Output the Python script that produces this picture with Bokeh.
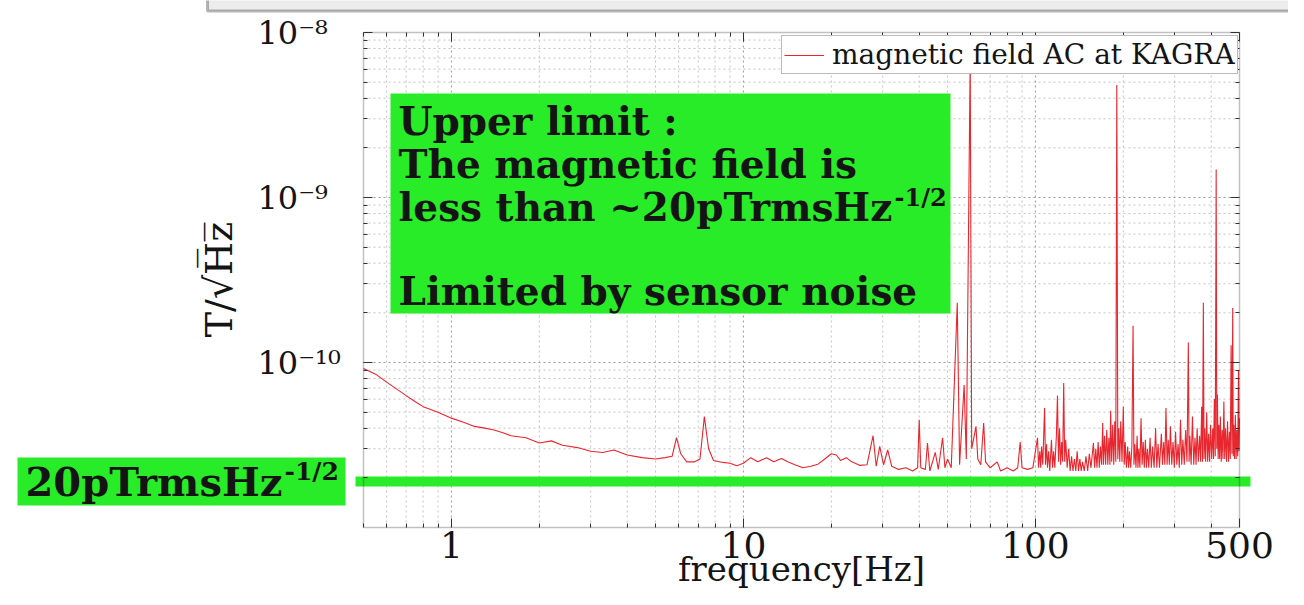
from math import log10, pi
from bokeh.plotting import figure
from bokeh.models import Range1d, FixedTicker, LogAxis, Label, BoxAnnotation
from bokeh.embed import file_html
from bokeh.resources import INLINE

# ---------------- data ----------------
freq_hz = [
    0.50, 0.55, 0.60, 0.65, 0.70, 0.75, 0.80, 0.90, 1.0, 1.1, 1.2, 1.3, 1.4, 1.5, 1.6, 1.8,
    2.0, 2.2, 2.4, 2.7, 3.0, 3.3, 3.6, 4.0, 4.5, 5.0, 5.4, 5.7, 5.9, 6.1, 6.4, 6.8, 7.1,
    7.35, 7.6, 7.9, 8.5, 9.0, 9.5, 10.0, 10.6, 11.2, 12.0, 12.7, 13.5, 14.2, 15.0, 16.0,
    17.0, 18.0, 19.0, 20.0, 20.8, 21.5, 22.5, 23.5, 25.0, 26.5, 27.8, 28.5, 29.3, 30.2,
    31.2, 32.2, 34.0, 36.0, 38.0, 39.5, 40.0, 40.5, 42.0, 42.7, 43.5, 45.4, 46.5, 48.1,
    49.0, 50.0, 51.5, 54.0, 55.0, 57.0, 58.0, 59.8, 60.5, 62.6, 63.5, 65.0, 66.5, 67.5,
    70.0, 72.0, 74.0, 76.0, 80.0, 84.0, 87.0, 88.7, 90.0, 94.0, 98.0,
    101.7, 102.5, 103.5, 104.3, 105.0, 106.0, 107.5, 108.3, 109.2, 110.0, 111.0, 112.0,
    113.5, 114.5, 115.5, 116.5, 118.0, 119.0, 120.0, 121.0, 122.0, 123.0, 124.0, 125.0,
    126.0, 127.0, 128.5, 130.0, 131.5, 133.0, 134.5, 136.0, 137.5, 139.0, 140.5, 142.0,
    143.5, 145.0, 147.0, 149.0, 151.0, 153.0, 155.0, 157.0, 158.0, 159.5, 161.0, 162.5,
    164.0, 165.5, 167.0, 168.5, 170.0, 171.0, 172.5, 174.0, 175.5, 177.0, 178.5, 180.0,
    181.0, 182.5, 184.0, 185.5, 187.0, 188.5, 190.0, 191.5, 193.0, 194.5, 196.0, 198.0,
    200.0, 201.5, 203.0, 205.0, 207.0, 208.5, 210.0, 212.0, 214.0, 216.0, 217.5, 219.0,
    221.0, 223.0, 224.5, 226.0, 228.0, 230.0, 232.0, 234.0, 236.0, 238.0, 240.0, 242.0,
    244.5, 247.0, 249.5, 252.0, 255.0, 258.0, 260.5, 263.0, 266.0, 270.0, 272.5, 275.0,
    277.5, 280.0, 282.5, 285.0, 287.5, 290.0, 293.0, 296.0, 299.0, 302.0, 305.0, 308.0,
    311.0, 314.0, 317.0, 320.0, 323.5, 327.0, 330.5, 334.0, 336.0, 338.0, 341.5, 345.0,
    348.5, 352.0, 355.0, 358.0, 361.5, 365.0, 368.0, 371.0, 373.5, 376.0, 378.0, 380.0,
    383.0, 386.0, 389.0, 392.0, 395.0, 398.0, 401.5, 405.0, 407.5, 410.0, 413.0, 416.0,
    418.0, 420.0, 422.5, 425.0, 427.5, 430.0, 433.0, 436.0, 439.0, 442.0, 445.0, 448.0,
    451.5, 455.0, 458.5, 462.0, 465.0, 468.0, 471.0, 474.0, 476.0, 478.0, 481.0, 484.0,
    487.0, 490.0, 493.0, 496.0, 498.0, 500.0,
]
field_t = [
    9.2e-11, 8.5e-11, 7.6e-11, 6.9e-11, 6.3e-11, 5.8e-11, 5.4e-11, 5.0e-11, 4.6e-11, 4.35e-11,
    4.1e-11, 4.0e-11, 3.9e-11, 3.75e-11, 3.6e-11, 3.5e-11,
    3.25e-11, 3.35e-11, 3.15e-11, 3.05e-11, 2.9e-11, 2.85e-11, 2.95e-11, 2.75e-11, 2.65e-11,
    2.6e-11, 2.65e-11, 2.7e-11, 3.5e-11, 2.8e-11, 2.5e-11, 2.5e-11, 2.6e-11,
    4.7e-11, 3.0e-11, 2.55e-11, 2.48e-11, 2.45e-11, 2.37e-11, 2.45e-11, 2.65e-11, 2.5e-11,
    2.65e-11, 2.5e-11, 2.62e-11, 2.5e-11, 2.4e-11, 2.3e-11,
    2.35e-11, 2.42e-11, 2.6e-11, 2.8e-11, 2.75e-11, 2.55e-11, 2.65e-11, 2.5e-11, 2.38e-11,
    2.4e-11, 3.6e-11, 2.35e-11, 3.1e-11, 2.4e-11,
    2.95e-11, 2.35e-11, 2.25e-11, 2.3e-11, 2.2e-11, 2.3e-11, 4.5e-11, 2.3e-11, 2.25e-11,
    3.25e-11, 2.2e-11, 2.85e-11, 2.25e-11, 3.5e-11,
    2.3e-11, 2.6e-11, 2.3e-11, 2.3e-10, 2.4e-11, 7.3e-11, 2.6e-11, 7.0e-9, 3.0e-11, 4.1e-11,
    2.6e-11, 2.4e-11, 4.3e-11, 2.5e-11,
    2.3e-11, 2.4e-11, 2.5e-11, 2.2e-11, 2.3e-11, 2.2e-11, 2.3e-11, 3.3e-11, 2.3e-11, 2.25e-11,
    2.3e-11,
    3.5e-11, 2.3e-11, 2.9e-11, 2.3e-11, 3.1e-11, 2.4e-11, 5.3e-11, 2.4e-11, 3.2e-11, 2.3e-11,
    2.9e-11, 2.2e-11,
    3.4e-11, 2.3e-11, 2.9e-11, 2.3e-11, 3.6e-11, 6.3e-11, 2.5e-11, 4.0e-11, 2.4e-11, 3.3e-11,
    2.5e-11, 7.5e-11,
    2.5e-11, 3.4e-11, 2.3e-11, 3.0e-11, 2.2e-11, 2.7e-11, 2.2e-11, 2.6e-11, 2.2e-11, 2.9e-11,
    2.2e-11, 2.6e-11,
    2.2e-11, 2.5e-11, 2.2e-11, 2.7e-11, 2.2e-11, 2.8e-11, 2.3e-11, 2.9e-11, 3.25e-11, 2.3e-11,
    3.0e-11, 2.3e-11,
    3.3e-11, 2.3e-11, 3.1e-11, 2.4e-11, 4.3e-11, 2.4e-11, 3.6e-11, 2.4e-11, 3.9e-11, 2.4e-11,
    3.5e-11, 2.4e-11,
    5.1e-11, 2.5e-11, 4.2e-11, 2.4e-11, 4.4e-11, 2.5e-11, 4.8e-9, 2.6e-11, 4.0e-11, 2.5e-11,
    4.4e-11, 2.5e-11,
    5.4e-11, 2.4e-11, 3.3e-11, 2.3e-11, 3.1e-11, 2.3e-11, 2.9e-11, 2.3e-11, 3.1e-11, 1.67e-10,
    2.4e-11, 3.2e-11,
    2.3e-11, 3.6e-11, 2.3e-11, 3.0e-11, 2.3e-11, 4.6e-11, 2.4e-11, 3.3e-11, 2.3e-11, 3.4e-11,
    2.3e-11, 3.0e-11,
    2.3e-11, 3.5e-11, 2.3e-11, 3.1e-11, 2.3e-11, 4.0e-11, 2.3e-11, 3.2e-11, 2.3e-11, 3.7e-11,
    2.4e-11, 3.3e-11,
    2.4e-11, 5.3e-11, 2.4e-11, 3.4e-11, 2.4e-11, 4.1e-11, 2.4e-11, 3.3e-11, 2.3e-11, 3.8e-11,
    2.4e-11, 3.2e-11,
    2.3e-11, 4.5e-11, 2.4e-11, 3.4e-11, 2.4e-11, 3.9e-11, 2.5e-11, 1.32e-10, 2.5e-11, 3.6e-11,
    2.4e-11, 4.7e-11,
    2.4e-11, 3.5e-11, 2.4e-11, 4.0e-11, 2.5e-11, 3.6e-11, 2.5e-11, 5.4e-11, 2.5e-11, 2.3e-10,
    2.6e-11, 4.0e-11,
    2.5e-11, 5.0e-11, 2.5e-11, 3.7e-11, 2.5e-11, 4.2e-11, 2.6e-11, 4.0e-11, 2.6e-11, 6.0e-11,
    2.7e-11, 1.48e-9,
    3.0e-11, 6.4e-11, 2.6e-11, 4.2e-11, 2.6e-11, 4.7e-11, 2.5e-11, 3.9e-11, 2.6e-11, 5.8e-11,
    2.6e-11, 4.0e-11,
    2.5e-11, 4.4e-11, 2.5e-11, 3.8e-11, 2.6e-11, 1.27e-10, 2.8e-11, 2.14e-10, 2.7e-11, 4.2e-11,
    2.6e-11, 4.8e-11,
    2.6e-11, 3.9e-11, 2.7e-11, 9.0e-11, 2.9e-11, 4.6e-11,
]
limit_t = 1.9e-11
series_label = "magnetic field AC at KAGRA"
x_ticks = [1, 10, 100, 500]
x_tick_labels = ["1", "10", "100", "500"]
y_ticks = [1e-10, 1e-9, 1e-8]
y_tick_labels = ["10\u207b\u00b9\u2070", "10\u207b\u2079", "10\u207b\u2078"]
x_minor = [0.5, 0.6, 0.7, 0.8, 0.9, 2, 3, 4, 5, 6, 7, 8, 9, 20, 30, 40, 50, 60, 70, 80, 90,
           200, 300, 400]
y_minor = [m * 1e-11 for m in range(2, 10)] + [m * 1e-10 for m in range(2, 10)] + \
          [m * 1e-9 for m in range(2, 10)]
box_lines = ["Upper limit :", "The magnetic field is", "less than ~20pTrmsHz",
             "Limited by sensor noise"]
sup_text = "-1/2"
left_label = "20pTrmsHz"
y_title = "T/\u221aH\u0305z\u0305"
x_title = "frequency[Hz]"

# ---------------- layout / style ----------------
SERIF = "DejaVu Serif"
GREEN = "#27ec27"
RED = "#e8262e"
INK = "#141414"
AX = "#333333"
W, H = 1288, 589
X0, X1, Y0, Y1 = 0.5, 500.0, 1e-11, 1e-8
FL, FR, FT, FB = 363, 1239, 32, 527   # plot box in picture pixels


def dx(px):
    return 10 ** (log10(X0) + (px - FL) / (FR - FL) * (log10(X1) - log10(X0)))


def dy(py):
    return 10 ** (log10(Y1) - (py - FT) / (FB - FT) * (log10(Y1) - log10(Y0)))


# one canvas-wide frame; the plot box lies inside it so texts in the margins are not clipped
p = figure(width=W, height=H, x_axis_type="log", y_axis_type="log",
           x_range=Range1d(dx(0), dx(W)), y_range=Range1d(dy(H), dy(0)),
           x_axis_location=None, y_axis_location=None,
           output_backend="svg", toolbar_location=None, min_border=0)
p.title.visible = False
p.outline_line_color = None
p.background_fill_color = "white"
p.border_fill_color = "white"
p.grid.visible = False

# grey slide strip at the very top
p.add_layout(BoxAnnotation(left=dx(207), right=dx(W + 30), bottom=dy(10.5), top=dy(-30),
                           fill_color="#ececec", fill_alpha=1.0, line_color="#111111",
                           line_width=3))

# dotted grid inside the plot box
gx_minor = [v for v in x_minor if X0 < v < X1]
gy_minor = [v for v in y_minor if Y0 < v < Y1]
p.segment(x0=gx_minor, y0=[Y0] * len(gx_minor), x1=gx_minor, y1=[Y1] * len(gx_minor),
          line_color="#c4c4c4", line_dash="2 3", line_width=1)
p.segment(x0=[X0] * len(gy_minor), y0=gy_minor, x1=[X1] * len(gy_minor), y1=gy_minor,
          line_color="#c4c4c4", line_dash="2 3", line_width=1)
gx_major = [v for v in x_ticks if X0 < v < X1]
gy_major = [v for v in y_ticks if Y0 < v < Y1]
p.segment(x0=gx_major, y0=[Y0] * len(gx_major), x1=gx_major, y1=[Y1] * len(gx_major),
          line_color="#9a9a9a", line_dash="2 3", line_width=1)
p.segment(x0=[X0] * len(gy_major), y0=gy_major, x1=[X1] * len(gy_major), y1=gy_major,
          line_color="#9a9a9a", line_dash="2 3", line_width=1)

# axes (tick marks on all four sides of the box)
xt = FixedTicker(ticks=x_ticks, minor_ticks=x_minor)
yt = FixedTicker(ticks=y_ticks, minor_ticks=y_minor)
for t, side, loc, bnd in ((xt, "below", Y0, (X0, X1)), (xt, "above", Y1, (X0, X1)),
                          (yt, "left", X0, (Y0, Y1)), (yt, "right", X1, (Y0, Y1))):
    ax = LogAxis(ticker=t, fixed_location=loc, bounds=bnd,
                 major_label_overrides={k: "" for k in t.ticks},
                 axis_line_color=None, major_tick_in=9, major_tick_out=0,
                 minor_tick_in=4, minor_tick_out=0, major_label_standoff=0,
                 major_tick_line_color=AX, minor_tick_line_color=AX,
                 major_label_text_font_size="1px")
    p.add_layout(ax, side)

# tick labels and axis titles
for v, t in zip(x_ticks, x_tick_labels):
    p.add_layout(Label(x=v, y=dy(544), text=t, text_font=SERIF, text_font_size="36px",
                       text_color=INK, text_baseline="middle", text_align="center"))
for v, t in zip(y_ticks, y_tick_labels):
    p.add_layout(Label(x=dx(257), y=v, text=t, text_font=SERIF, text_font_size="32px",
                       text_color=INK, text_baseline="middle", text_align="left"))
p.add_layout(Label(x=dx((FL + FR) / 2), y=dy(568), text=x_title, text_font=SERIF,
                   text_font_size="34px", text_color=INK, text_baseline="middle",
                   text_align="center"))
p.add_layout(Label(x=dx(218), y=dy(279), text=y_title, angle=pi / 2, text_font=SERIF,
                   text_font_size="38px", text_color=INK, text_baseline="middle",
                   text_align="center"))

# spectrum
p.line(freq_hz, field_t, line_color=RED, line_width=1.1, legend_label=series_label)

# 20 pT line (reaches slightly past the box on both sides)
p.segment(x0=[dx(355)], y0=[limit_t], x1=[dx(1250)], y1=[limit_t], line_color=GREEN,
          line_width=10)

# box outline
p.add_layout(BoxAnnotation(left=X0, right=X1, bottom=Y0, top=Y1, fill_color=None,
                           line_color=AX, line_width=1.5))

# green text box
p.add_layout(BoxAnnotation(left=dx(390), right=dx(950), top=dy(93), bottom=dy(313),
                           fill_color=GREEN, fill_alpha=1.0, line_color=None))
for txt, cy in zip(box_lines, (120, 163, 206, 290)):
    p.add_layout(Label(x=dx(398), y=dy(cy), text=txt, text_font=SERIF, text_font_size="39px",
                       text_font_style="bold", text_color=INK, text_baseline="middle",
                       text_align="left"))
p.add_layout(Label(x=dx(894), y=dy(197), text=sup_text, text_font=SERIF, text_font_size="24px",
                   text_font_style="bold", text_color=INK, text_baseline="middle",
                   text_align="left"))

# left green label
p.add_layout(BoxAnnotation(left=dx(17), right=dx(345), top=dy(457), bottom=dy(505),
                           fill_color=GREEN, fill_alpha=1.0, line_color=None))
p.add_layout(Label(x=dx(25), y=dy(481), text=left_label, text_font=SERIF, text_font_size="40px",
                   text_font_style="bold", text_color=INK, text_baseline="middle",
                   text_align="left"))
p.add_layout(Label(x=dx(284), y=dy(471), text=sup_text, text_font=SERIF, text_font_size="25px",
                   text_font_style="bold", text_color=INK, text_baseline="middle",
                   text_align="left"))

lg = p.legend[0]
lg.location = (781, H - 74)
lg.margin = 0
lg.padding = 2
lg.spacing = 0
lg.label_text_font = SERIF
lg.label_text_font_size = "28px"
lg.label_text_color = INK
lg.label_height = 28
lg.glyph_height = 28
lg.glyph_width = 40
lg.label_standoff = 8
lg.border_line_color = "#777777"
lg.border_line_width = 1
lg.background_fill_color = "white"
lg.background_fill_alpha = 1.0

open("out.html", "w").write(file_html(p, INLINE))
